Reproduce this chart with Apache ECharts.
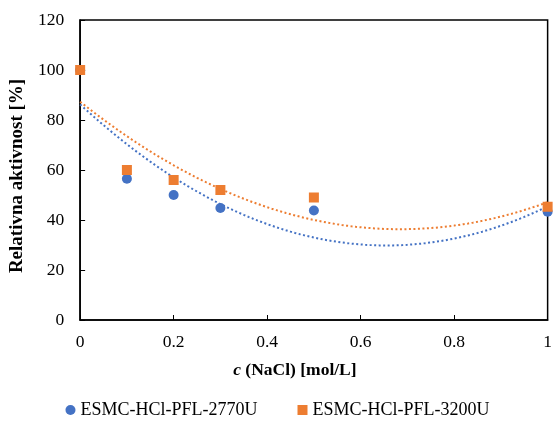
<!DOCTYPE html>
<html>
<head>
<meta charset="utf-8">
<script src="https://cdn.jsdelivr.net/npm/echarts@6/dist/echarts.min.js"></script>
<style>
html,body{margin:0;padding:0;background:#fff;}
#chart{width:555px;height:424px;}
</style>
</head>
<body>
<div id="chart"></div>
<script>
// 数据
var xValues=[0,0.1,0.2,0.3,0.5,1];
var blueValues=[100,56.5,50,44.8,43.8,43.3];
var orangeValues=[100,60,56,52,49,45.3];
var blueName='ESMC-HCl-PFL-2770U';
var orangeName='ESMC-HCl-PFL-3200U';

// 二次多项式拟合 (Excel trendline)
function polyFit2(xs,ys){
	var n=xs.length,s1=0,s2=0,s3=0,s4=0,t0=0,t1=0,t2=0;
	for(var i=0;i<n;i++){
		var x=xs[i],y=ys[i];
		s1+=x;s2+=x*x;s3+=x*x*x;s4+=x*x*x*x;
		t0+=y;t1+=x*y;t2+=x*x*y;
	}
	var m=[[n,s1,s2,t0],[s1,s2,s3,t1],[s2,s3,s4,t2]];
	for(var c=0;c<3;c++){
		for(var r=c+1;r<3;r++){
			var f=m[r][c]/m[c][c];
			for(var k=c;k<4;k++){m[r][k]-=f*m[c][k];}
		}
	}
	var res=[0,0,0];
	for(var r2=2;r2>=0;r2--){
		var s=m[r2][3];
		for(var k2=r2+1;k2<3;k2++){s-=m[r2][k2]*res[k2];}
		res[r2]=s/m[r2][r2];
	}
	return res;
}
function trendPoints(xs,ys){
	var co=polyFit2(xs,ys),pts=[];
	for(var i=0;i<=100;i++){
		var x=i/100;
		pts.push([x,co[0]+co[1]*x+co[2]*x*x]);
	}
	return pts;
}
function pairs(xs,ys){
	return xs.map(function(x,i){return [x,ys[i]];});
}

var font='"Liberation Serif","Times New Roman",serif';
var myChart=echarts.init(document.getElementById('chart'));
var option={
	animation:false,
	color:['#4472C4','#ED7D31'],
	grid:{left:80,right:5,top:20,bottom:104,show:true,borderColor:'#000',borderWidth:1.5,backgroundColor:'transparent'},
	legend:{
		bottom:0,
		left:'center',
		itemGap:40,
		itemWidth:10,
		itemHeight:10,
		textStyle:{fontFamily:font,fontSize:18,color:'#000'},
		data:[{name:blueName,icon:'circle'},{name:orangeName,icon:'rect'}]
	},
	xAxis:{
		type:'value',
		min:0,max:1,interval:0.2,
		axisLine:{show:true,lineStyle:{color:'#000',width:1.5}},
		axisTick:{show:true,inside:true,length:5,lineStyle:{color:'#000'}},
		splitLine:{show:false},
		axisLabel:{fontFamily:font,fontSize:17.5,color:'#000',margin:13,
			formatter:function(v){return String(Math.round(v*10)/10);}},
		name:'{i|c} (NaCl) [mol/L]',
		nameLocation:'middle',
		nameGap:41,
		nameTextStyle:{fontFamily:font,fontSize:17.5,fontWeight:'bold',color:'#000',padding:[0,38,0,0],
			rich:{i:{fontFamily:font,fontSize:17.5,fontWeight:'bold',fontStyle:'italic',color:'#000'}}}
	},
	yAxis:{
		type:'value',
		min:0,max:120,interval:20,
		axisLine:{show:true,lineStyle:{color:'#000',width:1.5}},
		axisTick:{show:true,inside:true,length:5,lineStyle:{color:'#000'}},
		splitLine:{show:false},
		axisLabel:{fontFamily:font,fontSize:17.5,color:'#000',margin:16},
		name:'Relativna aktivnost [%]',
		nameLocation:'middle',
		nameGap:50,
		nameTextStyle:{fontFamily:font,fontSize:19,fontWeight:'bold',color:'#000',padding:[0,12,0,0]}
	},
	series:[
		{
			name:blueName+' trend',
			type:'line',
			data:trendPoints(xValues,blueValues),
			showSymbol:false,
			lineStyle:{color:'#4472C4',width:2,type:[2,2.5]},
			silent:true,
			z:1
		},
		{
			name:orangeName+' trend',
			type:'line',
			data:trendPoints(xValues,orangeValues),
			showSymbol:false,
			lineStyle:{color:'#ED7D31',width:2,type:[2,2.5]},
			silent:true,
			z:1
		},
		{
			name:blueName,
			type:'scatter',
			symbol:'circle',
			symbolSize:10,
			data:pairs(xValues,blueValues),
			itemStyle:{color:'#4472C4',opacity:1},
			z:3
		},
		{
			name:orangeName,
			type:'scatter',
			symbol:'rect',
			symbolSize:10,
			data:pairs(xValues,orangeValues),
			itemStyle:{color:'#ED7D31',opacity:1},
			z:4
		}
	]
};
myChart.setOption(option);
</script>
</body>
</html>
